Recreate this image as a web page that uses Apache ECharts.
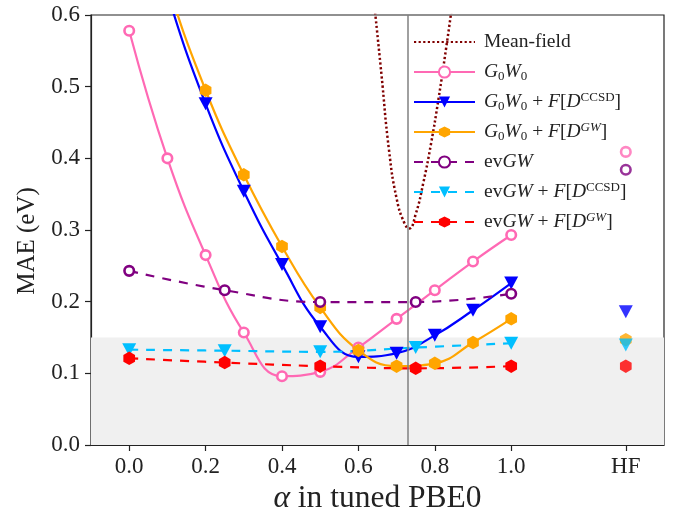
<!DOCTYPE html>
<html>
<head>
<meta charset="utf-8">
<script src="https://cdn.jsdelivr.net/npm/echarts@6/dist/echarts.min.js"></script>
<style>html,body{margin:0;padding:0;background:#fff}#c{width:675px;height:508px}</style>
</head>
<body>
<div id="c"></div>
<script>
// ---- data ----
const alphaFine = [0.0, 0.1, 0.2, 0.3, 0.4, 0.5, 0.6, 0.7, 0.8, 0.9, 1.0];
const g0w0 = [0.578, 0.400, 0.265, 0.157, 0.096, 0.102, 0.136, 0.176, 0.216, 0.256, 0.293];
const g0w0Ccsd = [0.82, 0.63, 0.476, 0.354, 0.252, 0.165, 0.123, 0.128, 0.153, 0.188, 0.226];
const g0w0Gw = [0.835, 0.645, 0.495, 0.377, 0.277, 0.192, 0.132, 0.110, 0.114, 0.143, 0.176];

const alphaCoarse = [0.0, 0.25, 0.5, 0.75, 1.0];
const evgw = [0.243, 0.216, 0.1995, 0.1995, 0.211];
const evgwCcsd = [0.133, 0.1316, 0.130, 0.136, 0.142];
const evgwGw = [0.121, 0.115, 0.110, 0.107, 0.110];

const alphaMF = [0.64, 0.66, 0.68, 0.70, 0.72, 0.733, 0.75, 0.77, 0.79, 0.81, 0.83, 0.85];
const meanField = [0.623, 0.519, 0.412, 0.344, 0.310, 0.302, 0.322, 0.366, 0.420, 0.484, 0.555, 0.631];

const hfAlpha = 1.3;
const hfValues = {g0w0: 0.409, g0w0Ccsd: 0.186, g0w0Gw: 0.147, evgw: 0.384, evgwCcsd: 0.1395, evgwGw: 0.110};

const tunedAlpha = 0.733;
const shadeMax = 0.15;

const xTickValues = [0.0, 0.2, 0.4, 0.6, 0.8, 1.0, 1.3];

// ---- styling ----
const FONT = 'Liberation Serif';
const TXT = '#222';
const C = {mf: '#800000', g0w0: '#ff69b4', g0w0Ccsd: '#0000ff', g0w0Gw: '#ffa500',
           evgw: '#800080', evgwCcsd: '#00bfff', evgwGw: '#ff0000'};
const HEX = 'path://M0,-1L0.866,-0.5L0.866,0.5L0,1L-0.866,0.5L-0.866,-0.5Z';
const DASH = [9, 8];

const names = {
  mf: '{g|}Mean-field',
  g0w0: '{g|}{i|G}{s|0}{i|W}{s|0}',
  g0w0Ccsd: '{g|}{i|G}{s|0}{i|W}{s|0} + {i|F}[{i|D}{p|CCSD}]',
  g0w0Gw: '{g|}{i|G}{s|0}{i|W}{s|0} + {i|F}[{i|D}{pi|GW}]',
  evgw: '{g|}ev{i|GW}',
  evgwCcsd: '{g|}ev{i|GW} + {i|F}[{i|D}{p|CCSD}]',
  evgwGw: '{g|}ev{i|GW} + {i|F}[{i|D}{pi|GW}]'
};

function pairs(xs, ys) { return xs.map((x, i) => [x, ys[i]]); }

function marker(key) {
  if (key === 'g0w0' || key === 'evgw') return {symbol: 'circle', symbolSize: 9.5, itemStyle: {color: '#fff', borderColor: C[key], borderWidth: 2.6}};
  if (key === 'g0w0Ccsd' || key === 'evgwCcsd') return {symbol: 'triangle', symbolRotate: 180, symbolSize: [14, 13], itemStyle: {color: C[key]}};
  return {symbol: HEX, symbolSize: 13.5, symbolKeepAspect: true, itemStyle: {color: C[key]}};
}

function lineSeries(key, xs, ys, dashed) {
  const m = marker(key);
  return Object.assign({
    id: key, name: key, type: 'line', smooth: 0.45, clip: true, z: 3,
    data: pairs(xs, ys), showSymbol: true,
    lineStyle: {color: C[key], width: 2.2, type: dashed ? DASH : 'solid'}
  }, m);
}

function hfSeries(key) {
  const m = marker(key);
  return Object.assign({
    id: key + '_hf', name: key + '_hf', type: 'scatter', z: 3,
    data: [[hfAlpha, hfValues[key]]]
  }, m);
}

const series = [
  {
    id: 'bg', name: 'bg', type: 'line', data: [], z: 1, silent: true,
    markArea: {silent: true, itemStyle: {color: '#f0f0f0'}, data: [[{yAxis: 0}, {yAxis: shadeMax}]]},
    markLine: {silent: true, symbol: 'none', label: {show: false},
      lineStyle: {color: '#808080', width: 1.5, type: 'solid'}, data: [{xAxis: tunedAlpha}]}
  },
  {
    id: 'mf', name: 'mf', type: 'line', smooth: 0.5, clip: true, z: 2,
    data: pairs(alphaMF, meanField), showSymbol: false, symbol: 'circle',
    lineStyle: {color: C.mf, width: 2.5, type: [2.2, 2.4]}, itemStyle: {color: C.mf}
  },
  lineSeries('g0w0', alphaFine, g0w0, false),
  lineSeries('g0w0Ccsd', alphaFine, g0w0Ccsd, false),
  lineSeries('g0w0Gw', alphaFine, g0w0Gw, false),
  lineSeries('evgw', alphaCoarse, evgw, true),
  lineSeries('evgwCcsd', alphaCoarse, evgwCcsd, true),
  lineSeries('evgwGw', alphaCoarse, evgwGw, true),
  hfSeries('g0w0'), hfSeries('g0w0Ccsd'), hfSeries('g0w0Gw'),
  hfSeries('evgw'), hfSeries('evgwCcsd'), hfSeries('evgwGw')
];

const chart = echarts.init(document.getElementById('c'), null, {renderer: 'canvas'});
chart.setOption({
  animation: false,
  backgroundColor: '#fff',
  textStyle: {fontFamily: FONT},
  grid: {left: 91, right: 11, top: 15, bottom: 63, outerBoundsMode: 'none', containLabel: false,
    show: true, borderColor: TXT, borderWidth: 1.2, backgroundColor: 'transparent'},
  xAxis: {
    type: 'value', min: -0.1, max: 1.4, interval: 0.1,
    splitLine: {show: false},
    axisLine: {onZero: false, lineStyle: {color: TXT, width: 1.2}},
    axisTick: {customValues: xTickValues, length: 6, lineStyle: {color: TXT, width: 1.2}},
    axisLabel: {customValues: xTickValues, margin: 10, fontFamily: FONT, fontSize: 23, color: TXT,
      formatter: v => Math.abs(v - hfAlpha) < 1e-6 ? 'HF' : v.toFixed(1)},
    name: '{i|α} in tuned PBE0', nameLocation: 'middle', nameGap: 32,
    nameTextStyle: {fontFamily: FONT, fontSize: 31.5, color: TXT, rich: {i: {fontStyle: 'italic', fontFamily: FONT, fontSize: 31.5, color: TXT}}}
  },
  yAxis: {
    type: 'value', min: 0, max: 0.6, interval: 0.1,
    splitLine: {show: false},
    axisLine: {show: true, onZero: false, lineStyle: {color: TXT, width: 1.2}},
    axisTick: {show: true, length: 6, lineStyle: {color: TXT, width: 1.2}},
    axisLabel: {margin: 11, fontFamily: FONT, fontSize: 23, color: TXT, formatter: v => v.toFixed(1)},
    name: 'MAE (eV)', nameLocation: 'middle', nameGap: 47,
    nameTextStyle: {fontFamily: FONT, fontSize: 25, color: TXT, padding: [0, 22, 0, 0]}
  },
  legend: {
    orient: 'vertical', left: 408, top: 26, itemWidth: 61, itemHeight: 14, itemGap: 8,
    data: [{name: 'mf', itemStyle: {opacity: 0}}, 'g0w0', 'g0w0Ccsd', 'g0w0Gw', 'evgw', 'evgwCcsd', 'evgwGw'],
    formatter: n => names[n],
    selectedMode: false,
    textStyle: {
      fontFamily: FONT, fontSize: 19.5, color: TXT, lineHeight: 22,
      rich: {
        g: {width: 4, height: 10},
        i: {fontStyle: 'italic', fontFamily: FONT, fontSize: 19.5, color: TXT, lineHeight: 22},
        s: {fontFamily: FONT, fontSize: 13, color: TXT, verticalAlign: 'bottom', lineHeight: 13},
        p: {fontFamily: FONT, fontSize: 13, color: TXT, verticalAlign: 'top', lineHeight: 13},
        pi: {fontFamily: FONT, fontStyle: 'italic', fontSize: 13, color: TXT, verticalAlign: 'top', lineHeight: 13}
      }
    }
  },
  series: series
});
</script>
</body>
</html>
